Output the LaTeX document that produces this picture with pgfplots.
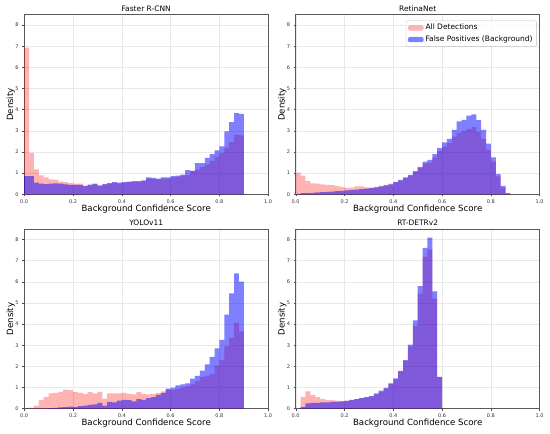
\documentclass[border=0pt]{standalone}
\usepackage{pgfplots}
\pgfplotsset{compat=1.18}
\usepackage{pgfplotstable}
\usepackage{fontspec}
\setmainfont{DejaVu Sans}

% Faster R-CNN: bins of 0.02 (left edges), last row closes the last bin
\pgfplotstableread{
x all fp
0.00 6.93 0.86
0.02 1.95 0.86
0.04 1.18 0.55
0.06 0.90 0.50
0.08 0.80 0.48
0.10 0.70 0.50
0.12 0.68 0.52
0.14 0.60 0.50
0.16 0.57 0.47
0.18 0.53 0.45
0.20 0.50 0.45
0.22 0.50 0.44
0.24 0.40 0.40
0.26 0.44 0.46
0.28 0.48 0.50
0.30 0.40 0.42
0.32 0.46 0.48
0.34 0.50 0.53
0.36 0.54 0.57
0.38 0.52 0.55
0.40 0.54 0.57
0.42 0.57 0.60
0.44 0.58 0.62
0.46 0.58 0.62
0.48 0.62 0.66
0.50 0.74 0.80
0.52 0.72 0.78
0.54 0.70 0.74
0.56 0.74 0.80
0.58 0.74 0.80
0.60 0.80 0.86
0.62 0.82 0.88
0.64 0.88 0.93
0.66 0.92 1.14
0.68 1.12 1.10
0.70 1.15 1.47
0.72 1.30 1.47
0.74 1.42 1.72
0.76 1.58 1.90
0.78 1.78 2.08
0.80 1.94 2.26
0.82 2.20 2.97
0.84 2.47 3.41
0.86 2.82 3.84
0.88 2.78 3.80
0.90 2.78 3.80
}\frcnn

% RetinaNet
\pgfplotstableread{
x all fp
0.00 1.02 0.02
0.02 0.88 0.05
0.04 0.62 0.06
0.06 0.52 0.07
0.08 0.50 0.09
0.10 0.47 0.10
0.12 0.45 0.12
0.14 0.43 0.13
0.16 0.40 0.15
0.18 0.35 0.16
0.20 0.30 0.18
0.22 0.32 0.20
0.24 0.38 0.22
0.26 0.38 0.25
0.28 0.33 0.27
0.30 0.30 0.30
0.32 0.35 0.33
0.34 0.40 0.38
0.36 0.45 0.42
0.38 0.50 0.47
0.40 0.58 0.58
0.42 0.65 0.68
0.44 0.76 0.80
0.46 0.88 0.92
0.48 1.05 1.10
0.50 1.25 1.30
0.52 1.45 1.55
0.54 1.50 1.63
0.56 1.75 1.90
0.58 2.05 2.18
0.60 2.25 2.45
0.62 2.42 2.62
0.64 2.72 3.05
0.66 2.90 3.45
0.68 3.00 3.52
0.70 3.08 3.72
0.72 3.18 3.78
0.74 2.95 3.50
0.76 2.62 3.05
0.78 2.10 2.40
0.80 1.55 1.75
0.82 0.85 0.95
0.84 0.32 0.40
0.86 0.03 0.05
0.88 0.03 0.05
}\retina

% YOLOv11
\pgfplotstableread{
x all fp
0.00 0.00 0.00
0.02 0.05 0.00
0.04 0.15 0.00
0.06 0.42 0.00
0.08 0.55 0.02
0.10 0.72 0.03
0.12 0.75 0.04
0.14 0.80 0.06
0.16 0.90 0.08
0.18 0.88 0.10
0.20 0.78 0.08
0.22 0.75 0.12
0.24 0.70 0.15
0.26 0.78 0.18
0.28 0.72 0.20
0.30 0.80 0.28
0.32 0.48 0.15
0.34 0.72 0.32
0.36 0.72 0.30
0.38 0.73 0.38
0.40 0.75 0.42
0.42 0.70 0.40
0.44 0.68 0.35
0.46 0.78 0.45
0.48 0.70 0.42
0.50 0.68 0.50
0.52 0.70 0.55
0.54 0.75 0.65
0.56 0.82 0.75
0.58 0.90 0.95
0.60 0.88 1.00
0.62 0.92 1.10
0.64 1.00 1.15
0.66 1.05 1.20
0.68 1.15 1.42
0.70 1.30 1.55
0.72 1.50 1.80
0.74 1.55 2.10
0.76 1.65 2.45
0.78 2.05 2.85
0.80 2.30 3.25
0.82 2.95 4.45
0.84 3.35 5.45
0.86 4.07 6.40
0.88 3.65 6.00
0.90 3.65 6.00
}\yolo

% RT-DETRv2
\pgfplotstableread{
x all fp
0.00 0.00 0.00
0.02 0.55 0.08
0.04 0.82 0.25
0.06 0.65 0.27
0.08 0.55 0.28
0.10 0.45 0.30
0.12 0.42 0.30
0.14 0.40 0.32
0.16 0.38 0.33
0.18 0.37 0.35
0.20 0.38 0.37
0.22 0.42 0.42
0.24 0.45 0.45
0.26 0.50 0.50
0.28 0.53 0.55
0.30 0.58 0.60
0.32 0.68 0.72
0.34 0.80 0.85
0.36 0.96 0.99
0.38 1.18 1.20
0.40 1.40 1.43
0.42 1.76 1.79
0.44 2.26 2.30
0.46 2.95 3.03
0.48 3.90 4.18
0.50 5.44 5.79
0.52 7.17 7.60
0.54 7.53 8.08
0.56 5.20 5.55
0.58 1.50 1.50
0.60 1.50 1.50
}\rtdetr

\pgfplotsset{
  panel/.style={
    scale only axis, width=244pt, height=179.5pt,
    xmin=0, xmax=1, ymin=0, ymax=8.484,
    xtick={0,0.2,0.4,0.6,0.8,1},
    ytick={0,1,2,3,4,5,6,7,8},
    xticklabel style={/pgf/number format/.cd, fixed, fixed zerofill, precision=1},
    /pgf/number format/assume math mode=true,
    tick label style={font=\fontsize{5}{6}\selectfont, black!80},
    grid=major, grid style={black!9, line width=0.4pt},
    axis line style={black!65, line width=0.7pt},
    tick style={black!70, line width=0.4pt},
    major tick length=2pt, tick align=outside, tick pos=left,
    xlabel={Background Confidence Score}, ylabel={Density},
    xlabel style={at={(axis description cs:0.5,-0.081)}, anchor=center, font=\fontsize{8.6}{10}\selectfont},
    ylabel style={at={(axis description cs:-0.055,0.5)}, anchor=center, rotate=0, font=\fontsize{8.6}{10}\selectfont},
    every axis title shift=0pt,
    title style={at={(axis description cs:0.5,1.018)}, anchor=base, font=\fontsize{7.5}{9}\selectfont},
    legend image code/.code={\fill[#1] (0pt,-2.7pt) rectangle (15.6pt,2.7pt);},
  },
  allh/.style={const plot, fill=red, fill opacity=0.3, draw=none},
  fph/.style={const plot, fill=blue, fill opacity=0.5, draw=none},
}

\begin{document}
\begin{tikzpicture}
\path[use as bounding box] (0,0) rectangle (550pt,434pt);

\begin{axis}[panel, at={(24.2pt,239.7pt)}, anchor=south west, title={Faster R-CNN}]
\addplot[allh] table[x=x, y=all] {\frcnn} \closedcycle;
\addplot[fph] table[x=x, y=fp] {\frcnn} \closedcycle;
\end{axis}

\begin{axis}[panel, at={(295.7pt,239.7pt)}, anchor=south west, title={RetinaNet},
  legend style={at={(rel axis cs:0.988,0.968)}, anchor=north east,
    font=\fontsize{7.5}{9}\selectfont, draw=black!25, rounded corners=1.5pt,
    fill=white, fill opacity=0.8, text opacity=1, inner xsep=2pt, inner ysep=1.5pt,
    row sep=0.5pt},
  legend cell align=left]
\addplot[allh] table[x=x, y=all] {\retina} \closedcycle;
\addlegendentry{All Detections}
\addplot[fph] table[x=x, y=fp] {\retina} \closedcycle;
\addlegendentry{False Positives (Background)}
\end{axis}

\begin{axis}[panel, at={(24.2pt,25.3pt)}, anchor=south west, title={YOLOv11}]
\addplot[allh] table[x=x, y=all] {\yolo} \closedcycle;
\addplot[fph] table[x=x, y=fp] {\yolo} \closedcycle;
\end{axis}

\begin{axis}[panel, at={(295.7pt,25.3pt)}, anchor=south west, title={RT-DETRv2}]
\addplot[allh] table[x=x, y=all] {\rtdetr} \closedcycle;
\addplot[fph] table[x=x, y=fp] {\rtdetr} \closedcycle;
\end{axis}
\end{tikzpicture}
\end{document}
